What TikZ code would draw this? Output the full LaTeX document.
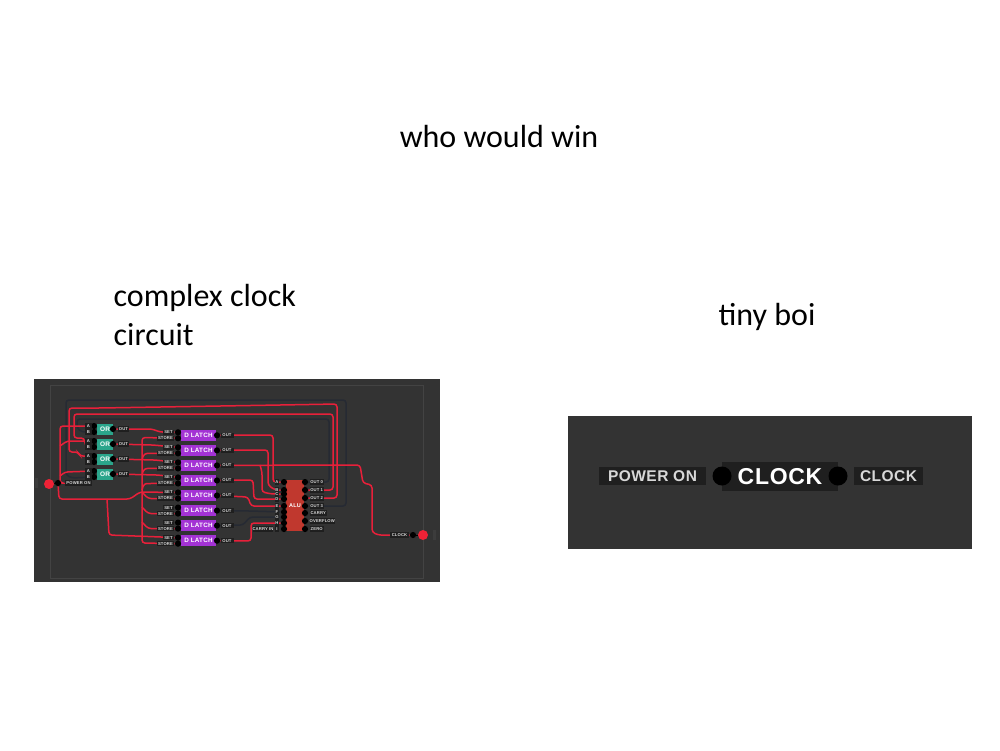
\documentclass[tikz,border=0pt]{standalone}
\usepackage{fontspec}
\setmainfont{Carlito}
\newfontfamily\pixfont[LetterSpace=3]{Liberation Sans}
\newcommand{\fsz}[1]{\fontsize{#1}{#1}\selectfont}
\pgfdeclarelayer{panel}
\pgfdeclarelayer{wires}
\pgfsetlayers{panel,wires,main}
\definecolor{panelc}{HTML}{333333}
\definecolor{framec}{HTML}{434343}
\definecolor{stripc}{HTML}{3C3C3C}
\definecolor{labelc}{HTML}{1F1F1F}
\definecolor{labeltext}{HTML}{D8D8D8}
\definecolor{wirered}{HTML}{E7203A}
\definecolor{wiredark}{HTML}{262A33}
\definecolor{orc}{HTML}{2BA58B}
\definecolor{latchc}{HTML}{A333D4}
\definecolor{aluc}{HTML}{C0382E}
\definecolor{ledc}{HTML}{EE2236}
\tikzset{
  title/.style={inner sep=0pt,font=\fsz{32},text=black},
  pinc/.style={circle,fill=black,inner sep=0pt,minimum size=6.2pt},
  led/.style={circle,fill=ledc,inner sep=0pt,minimum size=10pt},
  tag/.style={fill=labelc,text=labeltext,inner sep=0pt,minimum height=5.5pt,font=\pixfont\bfseries\fsz{4.2}},
  orbox/.style={fill=orc,text=white,inner sep=0pt,minimum width=16pt,minimum height=11pt,font=\pixfont\bfseries\fsz{6.5}},
  latchbox/.style={fill=latchc,text=white,inner sep=0pt,minimum width=35pt,minimum height=11pt,font=\pixfont\bfseries\fsz{6.3}},
  alubox/.style={fill=aluc,text=white,inner sep=0pt,minimum width=18pt,minimum height=51pt,font=\pixfont\bfseries\fsz{5.5}},
  wred/.style={draw=wirered,line width=1.5pt,rounded corners=3pt},
  wdark/.style={draw=wiredark,line width=1.5pt,rounded corners=3pt},
  bigpin/.style={circle,fill=black,inner sep=0pt,minimum size=19pt},
  bigtag/.style={fill=labelc,text=labeltext,inner sep=0pt,minimum height=18pt,font=\pixfont\bfseries\fsz{15.5}},
}
\begin{document}
\begin{tikzpicture}[x=1pt,y=-1pt]
\useasboundingbox (0,0) rectangle (1000,750);
\begin{pgfonlayer}{panel}
  \fill[white] (0,0) rectangle (1000,750);
  \fill[panelc] (34,379) rectangle (440,582);
  \draw[framec,line width=1pt] (50,385) rectangle (423,578);
  \fill[stripc] (35,478) rectangle (38,488);
  \fill[stripc] (433,530) rectangle (436,540);
  \fill[panelc] (568,416) rectangle (972,549);
\end{pgfonlayer}

% titles
\node[title] (t1) at (499,137) {who would win};
\node[title,anchor=base west] (t2) at (113.5,306) {complex clock};
\node[title,anchor=base west] (t3) at (113.5,345) {circuit};
\node[title] (t4) at (767,316.5) {tiny boi};

% power input / clock output
\node[led] (pwled) at (49,484) {};
\node[pinc] (pw) at (58,483) {};
\node[tag,minimum width=27pt] (pwtag) at (78.5,483) {POWER ON};
\node[led] (clled) at (423,535) {};
\node[pinc] (cl) at (413,535) {};
\node[tag,minimum width=19pt] (cltag) at (399.5,535) {CLOCK};

% OR gates
\foreach \i/\yc in {1/429,2/444,3/459,4/474}{
  \node[orbox] (or\i) at (105,\yc) {OR};
  \node[pinc] (orA\i) at (94,\yc-3) {};
  \node[pinc] (orB\i) at (94,\yc+3) {};
  \node[pinc] (orO\i) at (113,\yc) {};
  \node[tag,minimum width=7pt] (orAt\i) at (88.5,\yc-3) {A};
  \node[tag,minimum width=7pt] (orBt\i) at (88.5,\yc+3) {B};
  \node[tag,minimum width=11pt] (orOt\i) at (123.5,\yc) {OUT};
}

% D latches
\foreach \i [evaluate=\i as \yc using {435.3+15.05*(\i-1)}] in {1,...,8}{
  \node[latchbox] (la\i) at (198.5,\yc) {D LATCH};
  \node[pinc] (laS\i) at (178,\yc-3) {};
  \node[pinc] (laT\i) at (178,\yc+3) {};
  \node[pinc] (laO\i) at (217,\yc) {};
  \node[tag,minimum width=11pt] (laSt\i) at (168.5,\yc-3) {SET};
  \node[tag,minimum width=17pt] (laTt\i) at (165.5,\yc+3) {STORE};
  \node[tag,minimum width=13pt] (laOt\i) at (227,\yc) {OUT};
}

% ALU
\node[alubox] (alu) at (295,505.5) {ALU};
\foreach \i/\yc/\txt in {1/482/A,2/490/B,3/494/C,4/499/D,5/506/E,6/512/F,7/517/G,8/523/H}{
  \node[pinc] (aL\i) at (284,\yc) {};
  \node[tag,minimum width=4pt] (aLt\i) at (277,\yc) {\txt};
}
\node[pinc] (aL9) at (284,529) {};
\node[tag,minimum width=4pt] (aLt9) at (277,529) {I};
\node[tag,minimum width=16pt] (carryin) at (263,529) {CARRY IN};
\foreach \i/\yc/\txt/\tw in {1/482/OUT 0/14,2/490/OUT 1/14,3/498/OUT 2/14,4/506/OUT 3/14,5/513/CARRY/17,6/521/OVERFLOW/25,7/529/ZERO/14}{
  \node[pinc] (aR\i) at (305,\yc) {};
  \node[tag,minimum width=\tw pt,anchor=west] (aRt\i) at (309.5,\yc) {\txt};
}

\begin{pgfonlayer}{wires}
  \draw[black,line width=1pt] (pwled) -- (pw);
  \draw[black,line width=1pt] (clled) -- (cl);
  % dark feedback
  \draw[wdark] (aR4) -- (346,506) -- (346,400) -- (66,400) -- (66,475) -- (72,478) -- (orB4);
  \draw[wdark] (aR1) -- (329,482) -- (329,419) -- (77,419) -- (77,428) -- (82,432) -- (orB1);
  \draw[wdark] (laO6) -- (250,511) -- (aL6);
  \draw[wdark] (laO7) -- (243,525) -- (250,517) -- (aL7);
  % red feedback
  \draw[wred] (aR3) -- (337,498) -- (337,404) -- (280,405) -- (100,408) -- (69,408) -- (69,452) -- (78,452) -- (80,456) -- (orA3);
  \draw[wred] (aR2) -- (333,490) -- (333,414) -- (74,414) -- (74,438) -- (84,438) -- (86,447) -- (orB2);
  % power
  \draw[wred] (pw) -- (59,499) -- (130,499) -- (140,492) -- (laS5);
  \draw[wred] (107,499) -- (109,535) -- (laS8);
  \draw[wred] (pw) -- (60,483) -- (60,426) -- (orA1);
  \draw[wred] (60,446) -- (67,441) -- (orA2);
  \draw[wred] (60,476) -- (65,472) -- (orA4);
  % OR outputs
  \draw[wred] (orO1) -- (152,429) -- (160,432) -- (laS1);
  \draw[wred] (orO2) -- (153,445) -- (laS2);
  \draw[wred] (orO3) -- (155,460) -- (laS3);
  \draw[wred] (orO4) -- (158,475) -- (laS4);
  % store bus
  \draw[wred] (laT1) -- (142,437.5) -- (142,543) -- (laT8);
  \draw[wred] (142,460) -- (144,453.5) -- (laT2);
  \draw[wred] (142,475) -- (144,468.5) -- (laT3);
  \draw[wred] (142,490) -- (144,483.5) -- (laT4);
  \draw[wred] (142,492) -- (148,498.5) -- (laT5);
  \draw[wred] (142,507) -- (148,513.5) -- (laT6);
  \draw[wred] (142,522) -- (148,528.5) -- (laT7);
  % latch outputs
  \draw[wred] (laO1) -- (273,435) -- (273,482) -- (aL1);
  \draw[wred] (laO2) -- (268,450) -- (268,485) -- (275,490) -- (aL2);
  \draw[wred] (laO3) -- (360,465) -- (363,483) -- (372,485) -- (372,532) -- (378,535) -- (cl);
  \draw[wred] (260,465) -- (262,472) -- (262,492) -- (272,494) -- (aL3);
  \draw[wred] (laO4) -- (253,480) -- (254,499) -- (aL4);
  \draw[wred] (laO5) -- (248,497) -- (251,506) -- (aL5);
  \draw[wred] (laO8) -- (251,541) -- (251,523) -- (aL8);
\end{pgfonlayer}

% tiny boi
\node[fill=labelc,inner sep=0pt,minimum width=116pt,minimum height=29pt,text=white,font=\pixfont\bfseries\fsz{23}] (clock) at (780,476.5) {CLOCK};
\node[bigpin] (p1) at (722,476) {};
\node[bigpin] (p2) at (838,476) {};
\node[bigtag,minimum width=107pt] (poweron) at (652.5,476) {POWER ON};
\node[bigtag,minimum width=69pt] (clockout) at (888.5,476) {CLOCK};
\end{tikzpicture}
\end{document}
